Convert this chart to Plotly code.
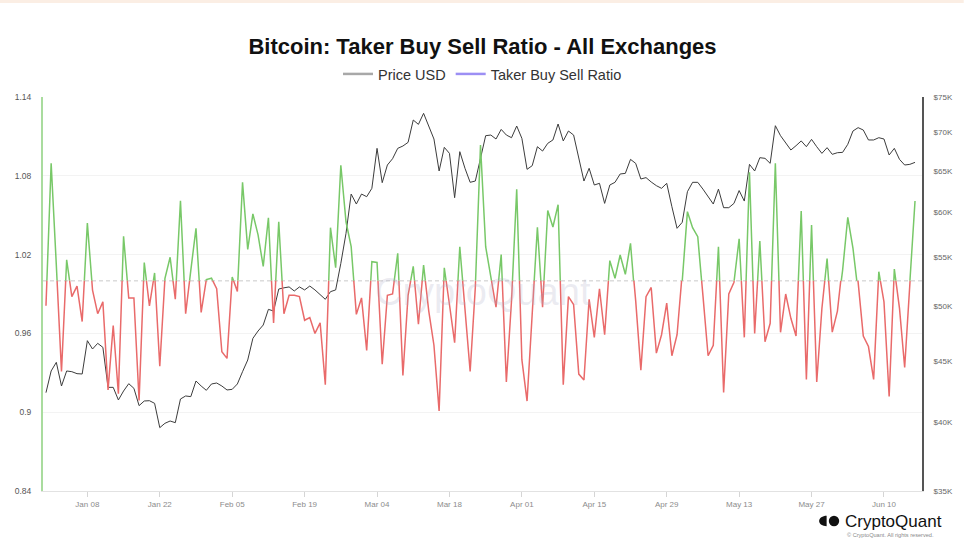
import math
import pandas as pd
import plotly.graph_objects as go

# ---------------- data ----------------
start_date = "2023-12-31"

ratio = [
    0.981, 1.0895, 1.012, 0.931, 1.016, 0.988, 0.996, 0.969, 1.044, 0.993,
    0.975, 0.984, 0.917, 0.966, 0.914, 1.034, 0.987, 0.987, 0.909, 1.014,
    0.981, 1.006, 0.935, 1.002, 1.018, 0.986, 1.061, 0.975, 1.008, 1.040,
    0.976, 1.001, 1.002, 0.994, 0.946, 0.941, 1.003, 0.992, 1.075, 1.024,
    1.051, 1.035, 1.011, 1.048, 0.968, 1.045, 0.975, 0.989, 0.989, 0.988,
    0.970, 0.972, 0.960, 0.968, 0.921, 1.0405, 1.010, 1.088, 1.045, 1.026,
    0.9745, 0.987, 0.947, 1.0146, 1.014, 0.9365, 0.989, 0.990, 1.021, 0.928,
    0.989, 1.011, 0.967, 1.012, 0.977, 0.951, 0.901, 1.010, 0.982, 0.953,
    1.026, 0.980, 0.931, 0.995, 1.1035, 1.026, 1.003, 0.980, 1.020, 0.923,
    0.985, 1.0697, 0.940, 0.9085, 0.975, 1.0408, 0.980, 1.0535, 1.041, 1.058,
    0.921, 0.988, 0.982, 0.929, 0.9245, 0.986, 0.957, 0.994, 0.959, 1.0154,
    1.002, 1.0197, 1.005, 1.0286, 0.985, 0.932, 0.988, 0.995, 0.945, 0.959,
    0.983, 0.943, 0.959, 1.000, 1.0527, 1.0405, 1.0336, 0.989, 0.943, 0.951,
    1.026, 0.915, 0.990, 0.999, 1.032, 0.957, 1.0826, 0.960, 1.0304, 0.9537,
    0.9677, 1.0895, 0.9608, 0.990, 0.9715, 0.958, 1.0532, 0.925, 1.0425, 0.923,
    0.979, 1.017, 0.961, 0.977, 1.008, 1.0484, 1.025, 0.999, 0.958, 0.950,
    0.925, 1.007, 0.984, 0.912, 1.009, 0.979, 0.934, 0.999, 1.0608,
]

price = [
    42333, 44146, 44891, 42882, 44146, 44087, 43917, 43890, 46813, 46064,
    46571, 46211, 42770, 42770, 41738, 42469, 43075, 42690, 41283, 41657,
    41680, 41468, 39561, 39896, 40075, 39946, 41818, 42063, 42010, 43299,
    42882, 42525, 43050, 43131, 42882, 42553, 42607, 43050, 44087, 45094,
    47023, 47695, 48251, 49735, 49577, 51730, 51850, 51940, 51534, 51940,
    51640, 52030, 51640, 51135, 50711, 51467, 51640, 54365, 57613, 62163,
    60974, 62163, 61845, 62853, 67908, 63546, 65755, 66560, 67908, 68215,
    68700, 71733, 71134, 72667, 70949, 69146, 64999, 68043, 67253, 61726,
    67473, 65338, 63590, 63750, 66608, 69590, 69680, 69146, 70444, 69680,
    69322, 70907, 69230, 65208, 65672, 68124, 67554, 68571, 69018, 71184,
    68890, 70222, 69680, 66608, 63750, 65338, 63260, 63466, 61051, 63260,
    63590, 64624, 64700, 66476, 65965, 64001, 64170, 63630, 63180, 62853,
    63466, 60665, 58176, 58856, 62447, 63590, 63590, 62760, 61845, 60974,
    62760, 60543, 60543, 61051, 62585, 61327, 65839, 64999, 66693, 66608,
    65965, 70949, 69590, 68571, 67690, 68260, 68890, 68124, 69100, 68124,
    67253, 67998, 67126, 67340, 67380, 68440, 70222, 70683, 70360, 69018,
    69018, 69322, 69146, 67040, 67908, 66476, 65755, 65839, 66092,
]

left_ticks = [0.84, 0.9, 0.96, 1.02, 1.08, 1.14]
left_tick_text = ["0.84", "0.9", "0.96", "1.02", "1.08", "1.14"]
right_ticks = [35000, 40000, 45000, 50000, 55000, 60000, 65000, 70000, 75000]
right_tick_text = ["$35K", "$40K", "$45K", "$50K", "$55K", "$60K", "$65K", "$70K", "$75K"]

TITLE = "Bitcoin: Taker Buy Sell Ratio - All Exchanges"
LEGEND_PRICE = "Price USD"
LEGEND_RATIO = "Taker Buy Sell Ratio"

dates = pd.date_range(start_date, periods=len(ratio), freq="D")

# ---------------- style ----------------
W, H = 965, 550
ML, MR, MT, MB = 43, 37, 97, 59
PW, PH = W - ML - MR, H - MT - MB
Y_MIN, Y_MAX, THRESH = 0.84, 1.14, 1.0
split = (THRESH - Y_MIN) / (Y_MAX - Y_MIN)
GREEN = "#78c868"
RED = "#e96a6a"
FONT = "Liberation Sans, Arial, sans-serif"


def px_x(px):
    return (px - ML) / PW


def px_y(py):
    return (H - MB - py) / PH


fig = go.Figure()

# price line (right log axis)
fig.add_trace(go.Scatter(x=dates, y=price, yaxis="y2", mode="lines",
                         line=dict(color="#3c3c3c", width=1),
                         name=LEGEND_PRICE, showlegend=False, hoverinfo="skip"))
# ratio: same series drawn in two stacked clip regions (above / below 1.0)
fig.add_trace(go.Scatter(x=dates, y=ratio, yaxis="y3", mode="lines",
                         line=dict(color=GREEN, width=1.5),
                         name=LEGEND_RATIO, showlegend=False, hoverinfo="skip"))
fig.add_trace(go.Scatter(x=dates, y=ratio, yaxis="y4", mode="lines",
                         line=dict(color=RED, width=1.5),
                         name=LEGEND_RATIO, showlegend=False, hoverinfo="skip"))
# legend entries
fig.add_trace(go.Scatter(x=[None], y=[None], mode="lines",
                         line=dict(color="#a8a8a8", width=2.5), name=LEGEND_PRICE))
fig.add_trace(go.Scatter(x=[None], y=[None], mode="lines",
                         line=dict(color="#9c8ff4", width=2.5), name=LEGEND_RATIO))

x_start = pd.Timestamp(start_date) - pd.Timedelta(hours=13.8)
x_end = pd.Timestamp(start_date) + pd.Timedelta(days=169.35)

shapes = [
    # threshold line at 1.0
    dict(type="line", xref="paper", x0=0, x1=1, yref="y", y0=THRESH, y1=THRESH,
         line=dict(color="#c9c9c9", width=1, dash="4px,3px"), layer="below"),
    # top peach band
    dict(type="rect", xref="paper", x0=px_x(-5), x1=px_x(W + 5),
         yref="paper", y0=px_y(3), y1=px_y(-5),
         fillcolor="#fbeee4", line=dict(width=0)),
]

# small CryptoQuant logo (bottom right)
cx, cy, r = 832.0, 521.0, 5.2
k = 0.5523
rx = 7.6
pts = [
    (cx, cy - r),
    (cx - k * rx, cy - r), (cx - rx, cy - k * r), (cx - rx, cy),
    (cx - rx, cy + k * r), (cx - k * rx, cy + r), (cx, cy + r),
]
p = [(px_x(a), px_y(b)) for a, b in pts]
path = "M {0[0]},{0[1]} C {1[0]},{1[1]} {2[0]},{2[1]} {3[0]},{3[1]} C {4[0]},{4[1]} {5[0]},{5[1]} {6[0]},{6[1]} Z".format(*p)
shapes.append(dict(type="path", xref="paper", yref="paper", path=path,
                   fillcolor="#111111", line=dict(width=0)))
shapes.append(dict(type="circle", xref="paper", yref="paper",
                   x0=px_x(834.2), x1=px_x(844.6), y0=px_y(526.2), y1=px_y(515.8),
                   fillcolor="#111111", line=dict(width=0)))

annotations = [
    dict(text="CryptoQuant", xref="paper", yref="paper", x=px_x(486), y=px_y(292),
         showarrow=False, font=dict(family=FONT, size=38, color="rgba(175,175,200,0.25)"),
         xanchor="center", yanchor="middle"),
    dict(text="CryptoQuant", xref="paper", yref="paper", x=px_x(848), y=px_y(521),
         showarrow=False, font=dict(family=FONT, size=17, color="#111111"),
         xanchor="left", yanchor="middle"),
    dict(text="© CryptoQuant. All rights reserved.", xref="paper", yref="paper",
         x=px_x(850), y=px_y(535), showarrow=False,
         font=dict(family=FONT, size=5.6, color="#8a8a8a"),
         xanchor="left", yanchor="middle"),
]

fig.update_layout(
    width=W, height=H,
    margin=dict(l=ML, r=MR, t=MT, b=MB),
    paper_bgcolor="white", plot_bgcolor="rgba(0,0,0,0)",
    font=dict(family=FONT),
    title=dict(text=TITLE, xref="paper", x=0.5, xanchor="center",
               yref="container", y=1 - 46 / H, yanchor="middle",
               font=dict(family=FONT, size=22, color="#111111", weight="bold")),
    legend=dict(orientation="h", xref="paper", x=0.5, xanchor="center",
                yref="paper", y=px_y(74), yanchor="middle",
                font=dict(family=FONT, size=14.5, color="#333333"),
                bgcolor="rgba(0,0,0,0)", itemwidth=30, tracegroupgap=0),
    hovermode=False,
    xaxis=dict(type="date", range=[x_start, x_end], tickformat="%b %d",
               tick0="2024-01-08", dtick=14 * 86400000,
               ticks="outside", ticklen=5, tickcolor="#d5d5d5", tickwidth=1,
               showline=True, linecolor="#e2e2e2", linewidth=1,
               showgrid=False, zeroline=False,
               tickfont=dict(family=FONT, size=8, color="#8c8c8c"),
               anchor="y"),
    yaxis=dict(range=[Y_MIN, Y_MAX], tickvals=left_ticks, ticktext=left_tick_text,
               showgrid=True, gridcolor="#f3f3f3", gridwidth=1,
               showline=True, linecolor="#a9dc9e", linewidth=2,
               zeroline=False, ticks="", ticklabelstandoff=8,
               tickfont=dict(family=FONT, size=8.5, color="#555555")),
    yaxis2=dict(overlaying="y", side="right", type="log",
                range=[math.log10(35000), math.log10(75000)],
                tickvals=right_ticks, ticktext=right_tick_text,
                showgrid=False, zeroline=False,
                showline=True, linecolor="#555555", linewidth=2,
                ticks="", ticklabelstandoff=8,
                tickfont=dict(family=FONT, size=8, color="#666666")),
    yaxis3=dict(domain=[split, 1], range=[THRESH, Y_MAX], visible=False,
                anchor="x", showgrid=False, zeroline=False),
    yaxis4=dict(domain=[0, split], range=[Y_MIN, THRESH], visible=False,
                anchor="x", showgrid=False, zeroline=False),
    shapes=shapes,
    annotations=annotations,
)

fig.write_html("out.html")
